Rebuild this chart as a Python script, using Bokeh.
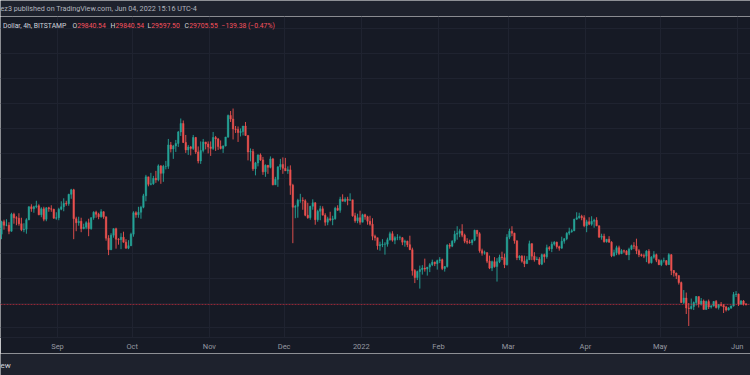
import pandas as pd
from bokeh.plotting import figure
from bokeh.models import Range1d, FixedTicker, SingleIntervalTicker, Grid, Span, ColumnDataSource
from bokeh.layouts import column
from bokeh.core.properties import value
from bokeh.embed import file_html
from bokeh.resources import INLINE

# ---------------- data (daily candles) ----------------
start_date = "2021-08-09"
first_open = 43800

close = [
    # Aug 2021 (9-31)
    46300, 45600, 45600, 44400, 47800, 47100, 47000, 45900, 44700, 44800, 46700, 49300, 48900, 49300, 49500,
    47700, 48900, 46800, 49100, 48900, 48800, 47000, 47100,
    # Sep
    48800, 49300, 50000, 49900, 51800, 52700, 46900, 46100, 46400, 44900,
    45200, 46100, 44900, 47100, 48200, 47800, 47300, 48300, 47300, 43000,
    40700, 43600, 44900, 42800, 42700, 43200, 42200, 41000, 41500, 43800,
    # Oct
    48100, 47700, 48200, 49200, 51500, 55300, 53800, 53900, 55000, 54700,
    57500, 56000, 57400, 57400, 61700, 60900, 61500, 62000, 64300, 66000,
    62200, 60700, 61300, 61000, 63200, 60300, 58500, 60600, 62300, 61900, 61300,
    # Nov
    61000, 63200, 62900, 61400, 61000, 61500, 63300, 67600, 66900, 64900,
    64800, 64200, 64400, 65500, 63600, 60300, 60400, 56900, 58100, 59700,
    58700, 56300, 57600, 57200, 58900, 53700, 54800, 57300, 57800, 57000,
    # Dec
    56500, 56700, 53600, 49200, 49400, 50600, 50600, 50500, 47600, 47100,
    49400, 50100, 46700, 48400, 48900, 47600, 46200, 46900, 46700, 46900,
    49000, 48600, 50800, 50400, 50800, 50600, 50700, 47500, 46500, 47100, 46200,
    # Jan 2022
    47700, 47300, 46400, 45800, 43400, 43100, 41500, 41700, 41800, 41800,
    42700, 43900, 42600, 43100, 43100, 43100, 42200, 42400, 41700, 40700,
    36500, 35100, 36300, 36700, 37000, 36800, 37200, 37700, 38200, 37900, 38500,
    # Feb
    38700, 36900, 37300, 41600, 41400, 42400, 43800, 44000, 44400, 43600,
    42400, 42200, 42100, 42600, 44600, 43900, 40500, 40000, 40100, 38400,
    37000, 38300, 37300, 38300, 39200, 39100, 37700, 43200,
    # Mar
    44400, 44000, 42500, 39100, 39400, 38400, 37900, 38700, 41900, 39400,
    38700, 38800, 37800, 39700, 39300, 41100, 40900, 41800, 42200, 41300,
    41000, 42400, 42900, 44000, 44300, 44500, 46800, 47100, 47400, 47100, 45500,
    # Apr
    46300, 45800, 46400, 46600, 45500, 43200, 43400, 42300, 42800, 42200,
    39500, 40100, 41100, 39900, 40500, 40400, 39700, 40800, 41500, 41400,
    40500, 39700, 39500, 39400, 40400, 38100, 39200, 39700, 38600, 37700,
    # May
    38500, 38500, 37700, 39700, 36500, 36000, 35500, 34100, 30100, 31000,
    29000, 28900, 29300, 30100, 31300, 29800, 30400, 28700, 30300, 29200,
    29400, 30300, 29100, 29700, 29500, 29200, 28600, 29000, 29400, 31700, 31800,
    # Jun
    29800, 30400, 29800, 29705.55,
]

high = [
    46500, 46700, 46800, 46200, 48100, 48100, 47400, 48000, 47100, 46000, 47000, 49400, 49800, 49500, 50500,
    49800, 49200, 49300, 49200, 49300, 49600, 48900, 48200,
    49100, 50400, 51000, 50500, 51900, 52900, 52900, 47300, 47300, 47100,
    45900, 46400, 46900, 47200, 48400, 48500, 48100, 48800, 48400, 47300,
    43600, 44000, 45000, 45100, 43000, 44000, 44300, 42800, 42600, 44100,
    48400, 48400, 49300, 49500, 51900, 55700, 55300, 56100, 55500, 56500,
    57800, 57600, 57700, 58500, 62900, 62300, 61700, 62700, 64500, 67000,
    66600, 63700, 61700, 61500, 63700, 63300, 61400, 62400, 62900, 62300, 62400,
    62400, 64300, 63500, 63100, 62600, 61600, 63300, 67800, 68500, 69000,
    65500, 65400, 65000, 65500, 66300, 63600, 61000, 60900, 58300, 59800,
    60000, 59300, 57800, 57700, 59400, 59100, 55300, 57400, 58900, 59200,
    59100, 57400, 57600, 53900, 49700, 50900, 51900, 51200, 50800, 50100,
    49500, 50800, 50200, 48700, 49500, 49400, 48000, 47300, 48300, 47500,
    49300, 49600, 51300, 51800, 51200, 51300, 52000, 50700, 48100, 47900, 48500,
    47900, 47900, 47500, 47500, 47000, 43700, 43100, 42300, 42800, 42200,
    43100, 44300, 44400, 43400, 43800, 43500, 43200, 42700, 42500, 43500,
    41100, 36800, 36500, 37500, 37600, 38900, 37200, 38000, 38700, 38300, 38700,
    39200, 38900, 37400, 41800, 42000, 42600, 44500, 45400, 44800, 45800,
    43900, 43000, 42700, 42800, 44700, 44600, 44200, 40900, 40500, 40200,
    39500, 38500, 39200, 39000, 39700, 40300, 39900, 43800,
    44900, 45400, 44100, 42500, 39600, 39600, 39500, 39400, 42500, 42000,
    40200, 39300, 39200, 39900, 39900, 41700, 41400, 42300, 42400, 42300,
    41500, 43300, 43000, 44200, 45100, 44800, 46900, 48200, 48100, 47700, 47600,
    46700, 47200, 47400, 46900, 47200, 45500, 43900, 43900, 42800, 43400,
    42400, 40700, 41500, 41500, 40800, 40700, 40600, 41100, 41700, 42200,
    42900, 40800, 39900, 39900, 40600, 40800, 39400, 40400, 39900, 38800,
    38700, 39100, 38600, 40000, 39800, 36600, 36100, 35500, 34300, 32600,
    32100, 30000, 30900, 30300, 31400, 31300, 31000, 30700, 30500, 30700,
    29600, 30400, 30600, 29800, 30200, 29800, 29400, 29200, 29500, 32200, 32400,
    31900, 30600, 30600, 30000,
]

low = [
    42800, 44700, 45400, 43800, 44300, 45900, 45600, 45500, 44400, 44200, 43900, 46600, 48300, 48100, 49000,
    47600, 47200, 46400, 46400, 48300, 48300, 46900, 46700,
    46600, 48600, 48400, 49500, 49500, 50900, 42800, 44400, 45500, 44200,
    44800, 44800, 43400, 44700, 46700, 47100, 46800, 47100, 46900, 42500,
    39600, 40600, 43100, 40900, 41700, 40800, 42100, 40900, 40800, 41400,
    43300, 47100, 47100, 46900, 49000, 50400, 53400, 53600, 53700, 54100,
    54400, 53900, 54300, 56800, 56900, 60200, 58900, 60300, 61300, 63500,
    62100, 60100, 59700, 59600, 60700, 59900, 58000, 57900, 60200, 60800, 60000,
    59500, 60700, 60500, 60700, 60800, 60100, 61400, 63100, 66300, 62800,
    64100, 62300, 63400, 63600, 63500, 58600, 58400, 56500, 55600, 57400,
    58500, 55700, 55300, 55900, 57000, 53600, 53700, 53300, 56700, 55900,
    56500, 55900, 51700, 42000, 47000, 47100, 50100, 48700, 47400, 46900,
    46700, 48700, 45700, 46300, 46600, 47600, 45500, 45600, 46400, 45600,
    46700, 48500, 48100, 50400, 50200, 49600, 50500, 47300, 46100, 46000, 45700,
    46200, 46700, 45700, 45500, 42600, 42500, 40700, 40500, 41200, 39700,
    41300, 42500, 42300, 41800, 42600, 42600, 41600, 41300, 41200, 40600,
    35500, 34000, 34600, 32900, 35700, 36300, 35500, 36200, 37400, 37400, 36700,
    38000, 36600, 36300, 37100, 40900, 41200, 42000, 42700, 43200, 43200,
    42000, 41800, 41900, 41600, 42400, 43300, 40100, 39500, 39700, 38000,
    36800, 36400, 37100, 34300, 38000, 38600, 37000, 37500,
    42800, 43400, 41900, 38600, 38600, 38100, 37200, 37900, 38600, 38600,
    38300, 38600, 37600, 37600, 38100, 38900, 40500, 40200, 41500, 40900,
    40500, 40900, 41900, 42600, 43600, 44100, 44400, 46700, 46900, 46600, 45200,
    44200, 45600, 45500, 45100, 45400, 43100, 42700, 42100, 42100, 42100,
    39200, 39300, 39600, 39600, 39800, 40000, 39600, 38600, 40600, 40800,
    39800, 39200, 39300, 39000, 38200, 37800, 37900, 38900, 38200, 37600,
    37400, 38100, 37500, 37700, 35600, 35300, 34800, 33700, 30000, 29800,
    27800, 25400, 28700, 28600, 29500, 29100, 29500, 28700, 28700, 28800,
    28900, 29300, 28900, 28700, 29300, 28000, 28300, 28500, 28800, 29300, 31200,
    29400, 29600, 29500, 29500,
]

month_starts = ["2021-09-01", "2021-10-01", "2021-11-01", "2021-12-01", "2022-01-01",
                "2022-02-01", "2022-03-01", "2022-04-01", "2022-05-01", "2022-06-01"]
month_labels = ["Sep", "Oct", "Nov", "Dec", "2022", "Feb", "Mar", "Apr", "May", "Jun"]

header_text = "ez3 published on TradingView.com, Jun 04, 2022 15:16 UTC-4"
symbol_text = "Dollar, 4h, BITSTAMP"
ohlc_keys = ["O", "H", "L", "C"]
ohlc_vals = ["29840.54", "29840.54", "29597.50", "29705.55"]
change_text = "\u2212139.38 (\u22120.47%)"
footer_text = "ew"
last_price = 29705.55

# ---------------- styling ----------------
BG = "#161a25"
BAR = "#1e222d"
GRID = "#1f2330"
UP = "#26a69a"
DOWN = "#ef5350"
TXT = "#d1d4dc"
FONT = "Roboto"

start = pd.Timestamp(start_date)
n = len(close)
opens = [first_open] + close[:-1]
xs = [i + 0.5 for i in range(n)]
colors = [UP if c >= o else DOWN for o, c in zip(opens, close)]
src = ColumnDataSource(dict(x=xs, o=opens, c=close, h=high, l=low,
                            top=[max(o, c) for o, c in zip(opens, close)],
                            bot=[min(o, c) for o, c in zip(opens, close)],
                            col=colors))

tick_pos = [(pd.Timestamp(d) - start).days for d in month_starts]

X0, X1 = 0.1, 301.3
Y0, Y1 = 23089, 87449
FRAME_W, FRAME_H, FRAME_TOP = 750, 321, 16


def fx(px):
    return X0 + px * (X1 - X0) / FRAME_W


def fy(py):
    return Y1 - (py - FRAME_TOP) * (Y1 - Y0) / FRAME_H


# ---------------- top bar ----------------
top = figure(width=750, height=16, x_range=Range1d(0, 750), y_range=Range1d(0, 16),
             toolbar_location=None, output_backend="svg",
             x_axis_location=None, y_axis_location=None,
             min_border=0, background_fill_color=BAR, border_fill_color=BAR,
             outline_line_color=None)
top.grid.visible = False
top.text(x=[0], y=[8], text=[header_text], text_font=value(FONT), text_font_size="7.2px",
         text_color="#b2b5be", text_baseline="middle", text_align="left")

# ---------------- main chart ----------------
p = figure(width=750, height=337, x_range=Range1d(X0, X1), y_range=Range1d(Y0, Y1),
           toolbar_location=None, output_backend="svg", y_axis_location=None,
           min_border_left=0, min_border_right=0, min_border_top=0, min_border_bottom=16,
           background_fill_color=BG, border_fill_color=BG, outline_line_color=None)

p.xaxis.ticker = FixedTicker(ticks=tick_pos)
p.xaxis.major_label_overrides = {t: lab for t, lab in zip(tick_pos, month_labels)}
p.xaxis.major_tick_line_color = None
p.xaxis.minor_tick_line_color = None
p.xaxis.major_tick_out = 0
p.xaxis.major_tick_in = 0
p.xaxis.minor_tick_out = 0
p.xaxis.minor_tick_in = 0
p.xaxis.axis_line_color = GRID
p.xaxis.major_label_standoff = 4
p.xaxis.major_label_text_font = FONT
p.xaxis.major_label_text_font_size = "7.5px"
p.xaxis.major_label_text_color = "#9598a1"
p.xgrid.grid_line_color = GRID
for g in p.ygrid:
    g.visible = False
p.add_layout(Grid(dimension=1, ticker=SingleIntervalTicker(interval=5000), grid_line_color=GRID))

p.segment(x0="x", y0="h", x1="x", y1="l", color="col", line_width=1, line_alpha=0.9, source=src)
p.vbar(x="x", top="top", bottom="bot", width=0.62, fill_color="col", line_color="col",
       line_width=0.5, fill_alpha=0.9, line_alpha=0.9, source=src)

p.add_layout(Span(location=last_price, dimension="width", line_color="#f23645",
                  line_alpha=0.55, line_width=1, line_dash="2 1"))

# legend line
ly = fy(25)
FS = "6.8px"
p.text(x=[fx(2.5)], y=[ly], text=[symbol_text], text_font=value(FONT), text_font_size=FS,
       text_color=TXT, text_baseline="middle", text_align="left")
key_px = [72, 110, 147, 184]
val_px = [76.7, 115, 150.7, 188.7]
p.text(x=[fx(v) for v in key_px], y=[ly] * 4, text=ohlc_keys, text_font=value(FONT),
       text_font_size=FS, text_color=TXT, text_baseline="middle", text_align="left")
p.text(x=[fx(v) for v in val_px], y=[ly] * 4, text=ohlc_vals, text_font=value(FONT),
       text_font_size=FS, text_color="#f7525f", text_baseline="middle", text_align="left")
p.text(x=[fx(221)], y=[ly], text=[change_text], text_font=value(FONT), text_font_size=FS,
       text_color="#f7525f", text_baseline="middle", text_align="left")

# ---------------- bottom bar ----------------
bot = figure(width=750, height=22, x_range=Range1d(0, 750), y_range=Range1d(0, 22),
             toolbar_location=None, output_backend="svg",
             x_axis_location=None, y_axis_location=None,
             min_border=0, background_fill_color=BAR, border_fill_color=BAR,
             outline_line_color=None)
bot.grid.visible = False
bot.text(x=[0], y=[10], text=[footer_text], text_font=value(FONT), text_font_size="8px",
         text_color=TXT, text_baseline="middle", text_align="left")

layout = column(top, p, bot, spacing=0)
open("out.html", "w").write(file_html(layout, INLINE))
